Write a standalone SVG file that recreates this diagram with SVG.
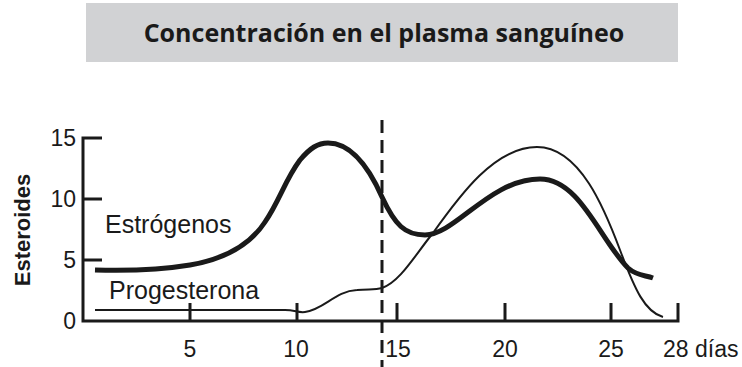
<svg xmlns="http://www.w3.org/2000/svg" width="742" height="367" viewBox="0 0 742 367">
<style>
.lbl{font-family:"Liberation Sans",Arial,sans-serif;font-size:23px;fill:#1a1a1a}
.big{font-family:"Liberation Sans",Arial,sans-serif;font-size:25px;fill:#1a1a1a}
.ax{stroke:#1a1a1a;stroke-width:3;fill:none}
.est{stroke:#1a1a1a;stroke-width:5;fill:none;stroke-linecap:butt}
.pro{stroke:#1a1a1a;stroke-width:2;fill:none}
</style>
<rect width="742" height="367" fill="#ffffff"/>
<g id="title">
<rect x="86" y="3" width="592" height="59" fill="#d1d2d4"/>
<text x="384" y="42" text-anchor="middle" font-family="'Open Sans','Noto Sans',sans-serif" font-weight="bold" font-size="25" fill="#1a1a1a">Concentración en el plasma sanguíneo</text>
</g>
<g id="axes">
<path class="ax" d="M102,138 H83 V321 H678 V303"/>
<path class="ax" d="M83,199 H102 M83,260 H102 M190,321 V303 M297,321 V303 M397,321 V303 M505,321 V303 M611,321 V303"/>
<g class="lbl" text-anchor="end">
<text x="76" y="146">15</text>
<text x="76" y="207">10</text>
<text x="76" y="268">5</text>
<text x="76" y="329">0</text>
</g>
<g class="lbl" text-anchor="middle">
<text x="190" y="357">5</text>
<text x="296" y="357">10</text>
<text x="398" y="357">15</text>
<text x="505" y="357">20</text>
<text x="611" y="357">25</text>
</g>
<text class="lbl" x="663" y="357">28 días</text>
<text x="30" y="230" transform="rotate(-90 30 230)" text-anchor="middle" font-family="'Liberation Sans',Arial,sans-serif" font-weight="bold" font-size="22" fill="#1a1a1a">Esteroides</text>
</g>
<g id="connectors">
<path id="estrogenos" class="est" d="M95,270 C130,271 160,270 190,265 C225,259 250,245 265,222 C280,200 285,180 300,160 C310,148 318,143 328,143 C352,143 370,170 382,197 C395,225 405,235 425,235 C455,235 490,179 540,179 C580,179 600,240 628,268 C637,276 645,275 653,278"/>
<path id="progesterona" class="pro" d="M95,310 L285,310 C295,310 298,313 305,312 C325,309 335,291 357,290 C370,289 375,290 382,288 C400,282 415,255 433,233 C460,195 495,147 537,147 C580,147 605,210 620,250 C635,290 645,312 663,317"/>
<line id="ovulacion" x1="382" y1="120" x2="382" y2="367" stroke="#1a1a1a" stroke-width="3" stroke-dasharray="13,7"/>
</g>
<g id="series-labels" class="big">
<text x="105" y="233">Estrógenos</text>
<text x="109" y="299">Progesterona</text>
</g>
</svg>
